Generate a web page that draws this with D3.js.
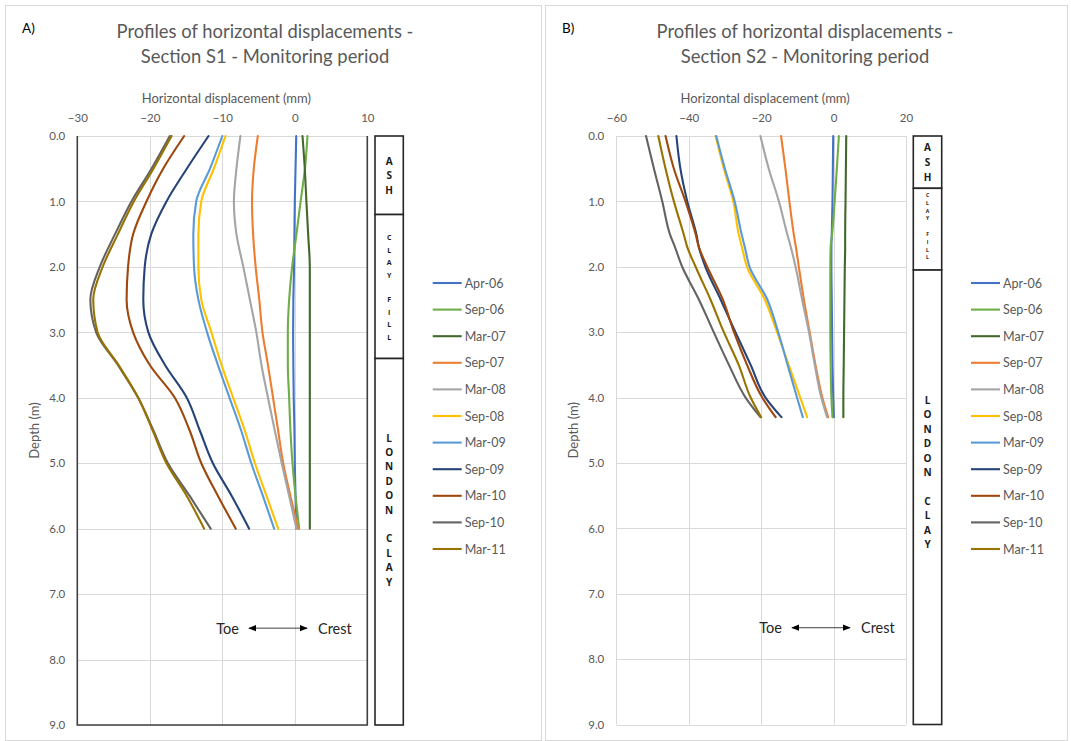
<!DOCTYPE html>
<html><head><meta charset="utf-8">
<script src="https://cdn.jsdelivr.net/npm/d3@7"></script>
<style>
body{margin:0;background:#fff}
svg{display:block}
text{font-family:Lato,"Open Sans",sans-serif}
</style>
</head><body>
<svg id="c" width="1071" height="741"></svg>
<script>
// ---------- DATA ----------
const seriesNames = ["Apr-06","Sep-06","Mar-07","Sep-07","Mar-08","Sep-08","Mar-09","Sep-09","Mar-10","Sep-10","Mar-11"];
const xTicksA = [-30,-20,-10,0,10];
const xTicksB = [-60,-40,-20,0,20];
const yTicks = [0,1,2,3,4,5,6,7,8,9];

// Section S1 (panel A) - depth (m)
const depthsA = [0,0.5,1,1.5,2,2.5,3,3.5,4,4.5,5,5.5,6];
const A_Apr06 = [0.2,0.1,0.0,-0.05,-0.1,-0.2,-0.23,-0.2,-0.15,-0.05,0.0,0.1,0.2];
const A_Sep06 = [1.75,1.4,0.8,0.23,-0.37,-0.78,-0.96,-0.96,-0.78,-0.6,-0.32,0.1,0.6];
const A_Mar07 = [1.06,1.38,1.6,1.84,2.07,2.07,2.07,2.07,2.07,2.07,2.07,2.07,2.07];
const A_Sep07 = [-5.1,-5.66,-5.9,-5.75,-5.4,-4.9,-4.46,-3.7,-3.0,-2.3,-1.6,-0.6,0.46];
const A_Mar08 = [-7.5,-8.05,-8.4,-8.05,-7.1,-6.2,-5.3,-4.6,-3.7,-2.76,-1.8,-0.78,0.23];
const A_Sep08 = [-9.56,-11.17,-12.9,-13.3,-13.3,-12.9,-11.5,-10.1,-8.5,-6.9,-5.5,-3.9,-2.3];
const A_Mar09 = [-10.0,-11.7,-13.6,-14.0,-13.9,-13.3,-12.1,-10.6,-9.0,-7.4,-6.0,-4.4,-2.85];
const A_Sep09 = [-11.9,-14.9,-17.7,-19.8,-20.7,-20.9,-20.2,-17.9,-14.9,-13.1,-11.3,-8.7,-6.3];
const A_Mar10 = [-15.26,-18.16,-20.46,-22.3,-23.0,-23.2,-22.3,-20.0,-16.55,-14.5,-12.9,-10.6,-8.14];
const A_Sep10 = [-17.24,-19.77,-22.53,-24.8,-26.9,-28.2,-27.4,-24.4,-21.6,-19.5,-17.5,-14.5,-11.6];
const A_Mar11 = [-17.0,-19.5,-22.2,-24.4,-26.5,-27.8,-27.2,-24.3,-21.6,-19.6,-17.7,-14.9,-12.5];

// Section S2 (panel B)
const depthsB = [0,0.5,1,1.5,1.7,2,2.5,3,3.5,4,4.3];
const B_Apr06 = [-0.1,-0.2,-0.3,-0.5,-0.6,-0.6,-0.5,-0.4,-0.3,-0.1,0.1];
const B_Sep06 = [1.46,0.9,0.3,-0.4,-0.8,-0.9,-0.9,-0.9,-0.8,-0.6,-0.3];
const B_Mar07 = [3.5,3.4,3.3,3.2,3.2,3.1,3.0,2.9,2.8,2.7,2.7];
const B_Sep07 = [-14.5,-13.3,-12.2,-11.0,-10.4,-9.6,-8.2,-6.6,-5.0,-3.1,-1.5];
const B_Mar08 = [-20.2,-17.9,-15.1,-12.8,-11.8,-10.5,-8.7,-6.8,-5.2,-3.4,-1.8];
const B_Sep08 = [-32.6,-30.3,-27.7,-26.2,-25.3,-23.9,-19.0,-15.6,-12.4,-9.2,-7.3];
const B_Mar09 = [-32.4,-30.0,-27.3,-25.4,-24.5,-23.2,-18.3,-15.3,-12.7,-10.1,-8.5];
const B_Sep09 = [-43.4,-42.3,-40.4,-37.9,-37.2,-35.4,-31.2,-27.1,-22.9,-18.8,-14.4];
const B_Mar10 = [-46.4,-44.1,-40.9,-38.1,-37.2,-34.9,-30.6,-27.5,-23.9,-19.7,-16.0];
const B_Sep10 = [-51.8,-49.6,-47.3,-45.2,-43.8,-41.8,-37.2,-33.1,-28.9,-24.3,-20.2];
const B_Mar11 = [-48.4,-46.4,-44.1,-41.4,-40.4,-38.1,-34.0,-30.3,-26.2,-22.9,-20.0];

// soil layers
const layerNamesA = ["ASH","CLAY FILL","LONDON CLAY"];
const layerBoundsA = [0,1.2,3.4,9];
const layerNamesB = ["ASH","CLAY FILL","LONDON CLAY"];
const layerBoundsB = [0,0.8,2.05,9];

// ---------- STYLE ----------
const seriesColors = ["#4472C4","#70AD47","#43682B","#ED7D31","#A5A5A5","#FFC000","#5B9BD5","#264478","#9E480E","#636363","#997300"];

const svg = d3.select("#c");

function drawPanel(cfg){
  const g = svg.append("g");
  g.append("rect").attr("x",cfg.frame[0]+0.5).attr("y",cfg.frame[1]+0.5)
    .attr("width",cfg.frame[2]-cfg.frame[0]).attr("height",cfg.frame[3]-cfg.frame[1])
    .attr("fill","#fff").attr("stroke","#d9d9d9").attr("stroke-width",1);

  const x = d3.scaleLinear().domain(cfg.xDomain).range([cfg.px0,cfg.px1]);
  const y = d3.scaleLinear().domain([0,9]).range([cfg.py0,cfg.py1]);

  g.append("g").selectAll("line").data(cfg.xTicks).join("line")
    .attr("x1",d=>Math.round(x(d))+0.5).attr("x2",d=>Math.round(x(d))+0.5)
    .attr("y1",y(0)).attr("y2",y(9)).attr("stroke","#d9d9d9").attr("stroke-width",1);
  g.append("g").selectAll("line").data(yTicks).join("line")
    .attr("y1",d=>Math.round(y(d))+0.5).attr("y2",d=>Math.round(y(d))+0.5)
    .attr("x1",x(cfg.xDomain[0])).attr("x2",x(cfg.xDomain[1])).attr("stroke","#d9d9d9").attr("stroke-width",1);

  if(cfg.darkFrame){
    const p = d3.path();
    p.moveTo(x(cfg.xDomain[0]),y(0)); p.lineTo(x(cfg.xDomain[0]),y(9));
    p.lineTo(x(cfg.xDomain[1]),y(9)); p.lineTo(x(cfg.xDomain[1]),y(0));
    g.append("path").attr("d",p.toString()).attr("fill","none").attr("stroke","#404040").attr("stroke-width",1.6);
  }

  const xAxis = d3.axisTop(x).tickValues(cfg.xTicks).tickSize(0).tickPadding(0).tickFormat(d3.format("d"));
  const xa = g.append("g").attr("transform",`translate(0,${cfg.py0-14})`).call(xAxis);
  xa.select(".domain").remove();
  xa.selectAll("text").attr("fill","#595959").style("font-size","11.5px").style("font-family","Lato, sans-serif").attr("dy","0");

  const yAxis = d3.axisLeft(y).tickValues(yTicks).tickSize(0).tickPadding(0).tickFormat(d3.format(".1f"));
  const ya = g.append("g").attr("transform",`translate(${cfg.px0-12},0)`).call(yAxis);
  ya.select(".domain").remove();
  ya.selectAll("text").attr("fill","#595959").style("font-size","11.5px").style("font-family","Lato, sans-serif");

  const tcx = cfg.titleX;
  g.append("text").attr("x",tcx).attr("y",38).attr("text-anchor","middle").attr("fill","#595959")
    .style("font-size","18.4px").text("Profiles of horizontal displacements -");
  g.append("text").attr("x",tcx).attr("y",63).attr("text-anchor","middle").attr("fill","#595959")
    .style("font-size","18.4px").text(cfg.subtitle);
  g.append("text").attr("x",cfg.letterX).attr("y",33).attr("fill","#000").style("font-size","13.5px").text(cfg.letter);

  g.append("text").attr("x",(cfg.px0+cfg.px1)/2+4).attr("y",103).attr("text-anchor","middle").attr("fill","#595959")
    .style("font-size","13px").text("Horizontal displacement (mm)");
  g.append("text").attr("transform",`translate(${cfg.px0-38},${(cfg.py0+cfg.py1)/2}) rotate(-90)`)
    .attr("text-anchor","middle").attr("fill","#595959").style("font-size","13px").text("Depth (m)");

  const line = d3.line().x(d=>x(d[1])).y(d=>y(d[0])).curve(d3.curveMonotoneY);
  cfg.series.forEach((vals,i)=>{
    const pts = cfg.depths.map((dp,k)=>[dp,vals[k]]);
    g.append("path").attr("d",line(pts)).attr("fill","none")
      .attr("stroke",seriesColors[i]).attr("stroke-width",2.1).attr("stroke-linecap","round").attr("stroke-linejoin","round");
  });

  const cg = g.append("g");
  const cx0 = cfg.colX0, cx1 = cfg.colX1, ccx = (cx0+cx1)/2;
  cfg.layerNames.forEach((nm,i)=>{
    const t = y(cfg.layerBounds[i]), b = y(cfg.layerBounds[i+1]);
    cg.append("rect").attr("x",cx0).attr("y",t).attr("width",cx1-cx0).attr("height",b-t)
      .attr("fill","#fff").attr("stroke","#262626").attr("stroke-width",1.6);
    const st = cfg.layerText[i];
    const letters = nm.split("");
    const n = letters.length;
    let y0;
    if(st.start==null){ y0 = (t+b)/2 - (n-1)*st.sp/2 + (st.shift||0); }
    else y0 = t + st.start;
    letters.forEach((ch,k)=>{
      if(ch===" ") return;
      cg.append("text").attr("x",ccx).attr("y",y0+k*st.sp).attr("text-anchor","middle")
        .attr("dominant-baseline","central").attr("fill","#1a1a1a")
        .style("font-size",st.fs+"px").style("font-weight","bold").style("font-family","'Open Sans',sans-serif").text(ch);
    });
  });

  const lg = g.append("g");
  seriesNames.forEach((nm,i)=>{
    const yy = 283 + i*26.6;
    lg.append("line").attr("x1",cfg.legX).attr("x2",cfg.legX+29).attr("y1",yy).attr("y2",yy)
      .attr("stroke",seriesColors[i]).attr("stroke-width",2.1);
    lg.append("text").attr("x",cfg.legX+32).attr("y",yy).attr("dominant-baseline","central")
      .attr("fill","#595959").style("font-size","12.5px").text(nm);
  });

  const ay = y(7.52);
  g.append("text").attr("x",cfg.toeX).attr("y",ay).attr("dominant-baseline","central").attr("text-anchor","end")
    .attr("fill","#262626").style("font-size","14.5px").text("Toe");
  g.append("line").attr("x1",cfg.toeX+10).attr("x2",cfg.toeX+cfg.arrowLen-2).attr("y1",ay).attr("y2",ay)
    .attr("stroke","#404040").attr("stroke-width",1)
    .attr("marker-start","url(#arrS)").attr("marker-end","url(#arrE)");
  g.append("text").attr("x",cfg.toeX+cfg.arrowLen+9).attr("y",ay).attr("dominant-baseline","central")
    .attr("fill","#262626").style("font-size","14.5px").text("Crest");
}

const defs = svg.append("defs");
defs.append("marker").attr("id","arrE").attr("viewBox","0 0 10 10").attr("refX",9).attr("refY",5)
  .attr("markerWidth",8).attr("markerHeight",8).attr("markerUnits","userSpaceOnUse").attr("orient","auto")
  .append("path").attr("d","M0,1 L10,5 L0,9 Z").attr("fill","#000");
defs.append("marker").attr("id","arrS").attr("viewBox","0 0 10 10").attr("refX",1).attr("refY",5)
  .attr("markerWidth",8).attr("markerHeight",8).attr("markerUnits","userSpaceOnUse").attr("orient","auto")
  .append("path").attr("d","M10,1 L0,5 L10,9 Z").attr("fill","#000");

drawPanel({
  frame:[5,5,541,740], xDomain:[-30,10], xTicks:xTicksA, px0:77.3, px1:367.3, py0:136, py1:725,
  darkFrame:true, titleX:265, subtitle:"Section S1 - Monitoring period", letter:"A)", letterX:22,
  depths:depthsA, series:[A_Apr06,A_Sep06,A_Mar07,A_Sep07,A_Mar08,A_Sep08,A_Mar09,A_Sep09,A_Mar10,A_Sep10,A_Mar11],
  colX0:375, colX1:403.3, layerNames:layerNamesA, layerBounds:layerBoundsA,
  layerText:[{fs:10,sp:14.5,start:null},{fs:7,sp:12.45,start:null,shift:1},{fs:10,sp:14.4,start:79}],
  legX:432.7, toeX:239, arrowLen:70
});
drawPanel({
  frame:[545,5,1067,740], xDomain:[-60,20], xTicks:xTicksB, px0:616.3, px1:906, py0:136, py1:724.5,
  darkFrame:false, titleX:805, subtitle:"Section S2 - Monitoring period", letter:"B)", letterX:562,
  depths:depthsB, series:[B_Apr06,B_Sep06,B_Mar07,B_Sep07,B_Mar08,B_Sep08,B_Mar09,B_Sep09,B_Mar10,B_Sep10,B_Mar11],
  colX0:913.3, colX1:941.7, layerNames:layerNamesB, layerBounds:layerBoundsB,
  layerText:[{fs:10,sp:15,start:null},{fs:5,sp:7.8,start:null,shift:-3},{fs:10,sp:14.4,start:130}],
  legX:971, toeX:782, arrowLen:70
});
</script>
</body></html>
